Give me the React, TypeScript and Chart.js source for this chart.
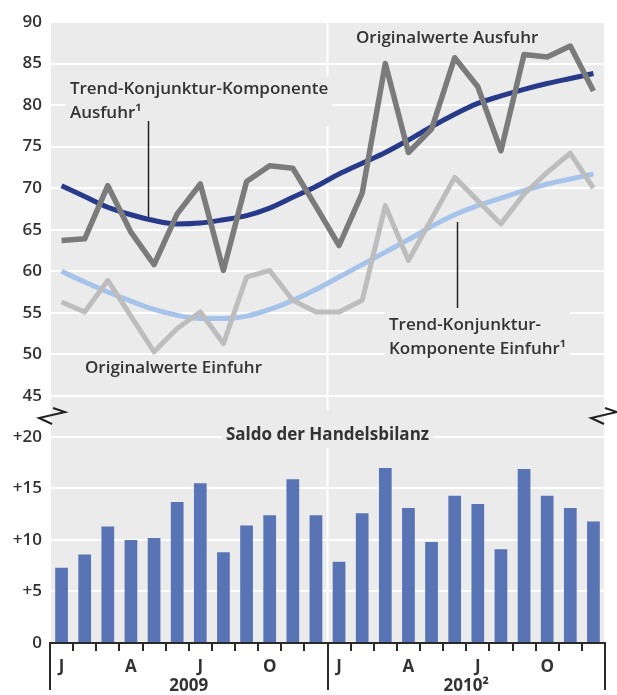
import React, { useEffect, useRef } from 'react';
import { Chart, registerables } from 'chart.js';

Chart.register(...registerables);

// ---------- data ----------
const categories = ['J', 'F', 'M', 'A', 'M', 'J', 'J', 'A', 'S', 'O', 'N', 'D', 'J', 'F', 'M', 'A', 'M', 'J', 'J', 'A', 'S', 'O', 'N', 'D'];
const yearLabels = ['2009', '2010²'];

const ausfuhrOriginal = [63.7, 63.9, 70.3, 64.7, 60.8, 66.9, 70.5, 60.1, 70.8, 72.7, 72.4, 67.8, 63.1, 69.4, 85.0, 74.3, 77.1, 85.7, 82.2, 74.5, 86.1, 85.8, 87.1, 81.7];
const ausfuhrTrend = [70.3, 69.0, 67.7, 66.8, 66.1, 65.7, 65.8, 66.2, 66.7, 67.6, 68.9, 70.2, 71.7, 73.0, 74.3, 75.8, 77.4, 78.9, 80.2, 81.1, 81.9, 82.6, 83.2, 83.8];
const einfuhrOriginal = [56.3, 55.1, 58.9, 54.6, 50.3, 53.1, 55.1, 51.3, 59.3, 60.1, 56.5, 55.1, 55.1, 56.5, 67.9, 61.3, 66.3, 71.3, 68.5, 65.7, 69.3, 71.9, 74.2, 70.0];
const einfuhrTrend = [60.0, 58.7, 57.5, 56.4, 55.4, 54.7, 54.3, 54.3, 54.6, 55.4, 56.5, 57.8, 59.3, 60.8, 62.3, 63.8, 65.4, 66.8, 67.9, 68.8, 69.7, 70.5, 71.1, 71.7];
const saldo = [7.3, 8.6, 11.3, 10.0, 10.2, 13.7, 15.5, 8.8, 11.4, 12.4, 15.9, 12.4, 7.9, 12.6, 17.0, 13.1, 9.8, 14.3, 13.5, 9.1, 16.9, 14.3, 13.1, 11.8];

const topTicks = [45, 50, 55, 60, 65, 70, 75, 80, 85, 90];
const bottomTicks = [0, 5, 10, 15, 20];
const bottomTickLabels = ['0', '+5', '+10', '+15', '+20'];

// annotations: text lines, [x index, y value of first line]
const topLabelText = [
  ['Trend-Konjunktur-Komponente', 'Ausfuhr¹'],
  ['Originalwerte Ausfuhr'],
  ['Originalwerte Einfuhr'],
  ['Trend-Konjunktur-', 'Komponente Einfuhr¹'],
];
const topLabelAt = [[0.36, 81.9], [12.73, 88.07], [1.01, 48.35], [14.16, 53.53]];
const leaderAt = [[3.74, 78.08, 66.53], [17.1, 65.93, 55.58]];
const bottomTitle = 'Saldo der Handelsbilanz';
const bottomTitleAt = [11.5, 20.19];

// ---------- style ----------
const FONT = '"Open Sans", "DejaVu Sans", sans-serif';
const BG = '#ebebeb';
const TEXT = '#333333';
const DARK_GRAY = '#7b7b7b';
const LIGHT_GRAY = '#bdbdbd';
const DARK_BLUE = '#283a8a';
const LIGHT_BLUE = '#a6c3ea';
const BAR = '#5874b4';

const bgPlugin = {
  id: 'bgPanel',
  beforeDraw(chart: any) {
    const { ctx, chartArea: a } = chart;
    ctx.save();
    ctx.fillStyle = BG;
    ctx.fillRect(a.left + 1, a.top, a.right - a.left - 2, a.bottom - a.top);
    ctx.restore();
  },
};

function drawLabel(ctx: any, lines: string[], x: number, y: number, font: string, align: string) {
  ctx.save();
  ctx.font = font;
  ctx.textBaseline = 'middle';
  ctx.textAlign = align;
  const lh = 24;
  const w = Math.max(...lines.map((l) => ctx.measureText(l).width));
  const left = align === 'center' ? x - w / 2 : x;
  const box = { x: left - 4, y: y - 13, w: w + 8, h: lh * (lines.length - 1) + 26 };
  ctx.fillStyle = BG;
  ctx.fillRect(box.x, box.y, box.w, box.h);
  ctx.fillStyle = TEXT;
  lines.forEach((l, i) => ctx.fillText(l, x, y + i * lh));
  ctx.restore();
  return box;
}

const topAnnot = {
  id: 'topAnnot',
  beforeDatasetsDraw(chart: any) {
    const { ctx, chartArea: a } = chart;
    const xs = chart.scales.x;
    const ys = chart.scales.y;
    ctx.save();
    const xd = xs.getPixelForValue(11.5);
    ctx.strokeStyle = '#ffffff';
    ctx.lineWidth = 2;
    ctx.beginPath();
    ctx.moveTo(xd, a.top);
    ctx.lineTo(xd, a.bottom);
    ctx.stroke();
    topLabelText.forEach((lines, i) => {
      drawLabel(ctx, lines, xs.getPixelForValue(topLabelAt[i][0]), ys.getPixelForValue(topLabelAt[i][1]), `600 17px ${FONT}`, 'left');
    });
    ctx.strokeStyle = '#222222';
    ctx.lineWidth = 1.5;
    leaderAt.forEach(([xi, y1, y2]) => {
      const px = Math.round(xs.getPixelForValue(xi)) + 0.5;
      ctx.beginPath();
      ctx.moveTo(px, ys.getPixelForValue(y1));
      ctx.lineTo(px, ys.getPixelForValue(y2));
      ctx.stroke();
    });
    ctx.restore();
  },
};

function drawBreak(ctx: any, cx: number, cy: number) {
  ctx.save();
  ctx.strokeStyle = '#222222';
  ctx.lineWidth = 2;
  ctx.lineJoin = 'miter';
  ctx.beginPath();
  ctx.moveTo(cx + 2, cy - 8);
  ctx.lineTo(cx + 14, cy - 4);
  ctx.lineTo(cx - 12, cy + 2);
  ctx.lineTo(cx + 1, cy + 8);
  ctx.stroke();
  ctx.restore();
}

const bottomAnnot = {
  id: 'bottomAnnot',
  beforeDatasetsDraw(chart: any) {
    const { ctx, chartArea: a } = chart;
    const xs = chart.scales.x;
    const ys = chart.scales.y;
    const box = drawLabel(ctx, [bottomTitle], xs.getPixelForValue(bottomTitleAt[0]), ys.getPixelForValue(bottomTitleAt[1]), `700 17px ${FONT}`, 'center');
    const xd = xs.getPixelForValue(11.5);
    ctx.save();
    ctx.strokeStyle = '#ffffff';
    ctx.lineWidth = 2;
    ctx.beginPath();
    ctx.moveTo(xd, box.y + box.h);
    ctx.lineTo(xd, a.bottom);
    ctx.stroke();
    ctx.restore();
  },
  afterDraw(chart: any) {
    const { ctx, chartArea: a } = chart;
    const xs = chart.scales.x;
    const b = a.bottom;
    ctx.save();
    ctx.strokeStyle = '#2a2a2a';
    ctx.lineWidth = 2;
    ctx.beginPath();
    ctx.moveTo(a.left, b);
    ctx.lineTo(a.right + 1, b);
    ctx.stroke();
    for (let i = 0; i <= categories.length; i++) {
      const x = Math.round(xs.getPixelForValue(i - 0.5));
      const long = i % 12 === 0;
      ctx.beginPath();
      ctx.moveTo(x, b - 1);
      ctx.lineTo(x, b + (long ? 47 : 8));
      ctx.stroke();
    }
    ctx.fillStyle = TEXT;
    ctx.font = `700 17px ${FONT}`;
    ctx.textAlign = 'center';
    ctx.textBaseline = 'middle';
    categories.forEach((c, i) => {
      if (i % 3 === 0) ctx.fillText(c, xs.getPixelForValue(i), b + 24);
    });
    yearLabels.forEach((y, k) => {
      ctx.fillText(y, xs.getPixelForValue(k * 12 + 5.5), b + 43);
    });
    drawBreak(ctx, a.left + 1, a.top + 6);
    drawBreak(ctx, a.right - 2, a.top + 6);
    ctx.restore();
  },
};

const tickFont = { family: FONT, size: 17, weight: 600 as any };

export default function App() {
  const topRef = useRef<HTMLCanvasElement>(null);
  const botRef = useRef<HTMLCanvasElement>(null);

  useEffect(() => {
    const top = new Chart(topRef.current as HTMLCanvasElement, {
      type: 'line',
      data: {
        labels: categories,
        datasets: [
          { label: 'Originalwerte Ausfuhr', data: ausfuhrOriginal, borderColor: DARK_GRAY, borderWidth: 5.5, pointRadius: 0, tension: 0, borderJoinStyle: 'round', order: 0 },
          { label: 'Originalwerte Einfuhr', data: einfuhrOriginal, borderColor: LIGHT_GRAY, borderWidth: 5, pointRadius: 0, tension: 0, borderJoinStyle: 'round', order: 1 },
          { label: 'Trend-Konjunktur-Komponente Ausfuhr', data: ausfuhrTrend, borderColor: DARK_BLUE, borderWidth: 5, pointRadius: 0, cubicInterpolationMode: 'monotone', order: 2 },
          { label: 'Trend-Konjunktur-Komponente Einfuhr', data: einfuhrTrend, borderColor: LIGHT_BLUE, borderWidth: 5, pointRadius: 0, cubicInterpolationMode: 'monotone', order: 3 },
        ] as any,
      },
      options: {
        responsive: false,
        animation: false,
        layout: { padding: { top: 22, left: 0, right: 12, bottom: 0 } },
        plugins: { legend: { display: false }, tooltip: { enabled: false } },
        scales: {
          x: { display: false, offset: true },
          y: {
            min: 43.3,
            max: 90,
            afterBuildTicks: (s: any) => { s.ticks = topTicks.map((v) => ({ value: v })); },
            afterFit: (s: any) => { s.width = 50; s.paddingTop = 0; s.paddingBottom = 0; },
            grid: { color: '#ffffff', lineWidth: 2, drawTicks: false },
            border: { display: false },
            ticks: { padding: 8, color: TEXT, font: tickFont },
          },
        },
      } as any,
      plugins: [bgPlugin, topAnnot],
    });

    const bottom = new Chart(botRef.current as HTMLCanvasElement, {
      type: 'bar',
      data: {
        labels: categories,
        datasets: [
          { label: 'Saldo der Handelsbilanz', data: saldo, backgroundColor: BAR, borderWidth: 0, categoryPercentage: 1, barPercentage: 0.55 },
        ],
      },
      options: {
        responsive: false,
        animation: false,
        layout: { padding: { top: 10, left: 0, right: 12, bottom: 52 } },
        plugins: { legend: { display: false }, tooltip: { enabled: false } },
        scales: {
          x: { display: false, offset: true },
          y: {
            min: 0,
            max: 22.62,
            afterBuildTicks: (s: any) => { s.ticks = bottomTicks.map((v) => ({ value: v })); },
            afterFit: (s: any) => { s.width = 50; s.paddingTop = 0; s.paddingBottom = 0; },
            grid: { color: '#ffffff', lineWidth: 2, drawTicks: false },
            border: { display: false },
            ticks: {
              padding: 8,
              color: TEXT,
              font: tickFont,
              callback: (v: any) => bottomTickLabels[bottomTicks.indexOf(Number(v))] ?? '',
            },
          },
        },
      } as any,
      plugins: [bgPlugin, bottomAnnot],
    });

    return () => {
      top.destroy();
      bottom.destroy();
    };
  }, []);

  return (
    <div style={{ position: 'absolute', left: 0, top: 0, width: 617, height: 695, background: '#ffffff' }}>
      <canvas ref={topRef} width={617} height={410} style={{ position: 'absolute', left: 0, top: 0 }} />
      <canvas ref={botRef} width={617} height={295} style={{ position: 'absolute', left: 0, top: 400 }} />
    </div>
  );
}
